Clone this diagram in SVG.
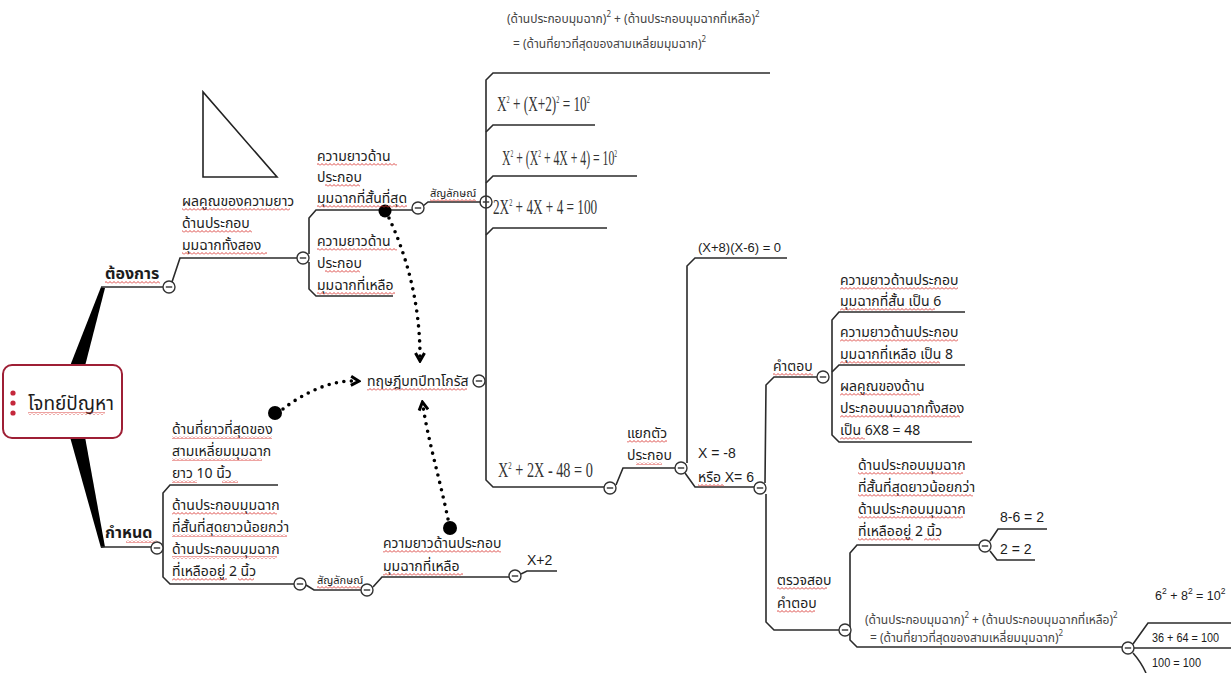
<svg xmlns="http://www.w3.org/2000/svg" width="1231" height="673" viewBox="0 0 1231 673">
  <style>
    .t { font-family: 'Noto Sans Thai', 'Noto Sans', 'DejaVu Sans', sans-serif; font-size: 14px; fill: #1c1c1c; }
    .b { font-weight: bold; font-size: 16px; }
    .s { font-size: 11px; }
    .f { font-size: 12px; fill: #444; }
    .lat { font-family: 'Liberation Sans', Arial, sans-serif; font-size: 14px; fill: #1c1c1c; }
    .eq { font-family: 'Liberation Serif', 'Times New Roman', serif; font-size: 21px; fill: #333; }
    .ln { fill: none; stroke: #2b2b2b; stroke-width: 1.6; }
    .cc { fill: #fff; stroke: #333; stroke-width: 1.4; }
    .dot { fill: none; stroke: #000; stroke-width: 3.6; stroke-linecap: round; stroke-dasharray: 0 7.5; }
    .w0 { fill: url(#wv0); }
    .w1 { fill: url(#wv1); }
    .w2 { fill: url(#wv2); }
  </style>
  <defs>
    <g id="cm">
      <circle class="cc" r="6"/>
      <line x1="-3.2" y1="0" x2="3.2" y2="0" stroke="#333" stroke-width="1.4"/>
    </g>
    <marker id="chev" viewBox="0 0 12 12" refX="6" refY="6" markerWidth="12" markerHeight="12" markerUnits="userSpaceOnUse" orient="auto">
      <path d="M2,1.5 L10,6 L2,10.5" fill="none" stroke="#000" stroke-width="3"/>
    </marker>
    <!-- spell-check squiggle, three vertical phases -->
    <pattern id="wv0" x="0" y="0" width="4" height="3" patternUnits="userSpaceOnUse">
      <path d="M0,2.5 L2,0.5 L4,2.5" fill="none" stroke="#d8322f" stroke-width="0.9"/>
    </pattern>
    <pattern id="wv1" x="0" y="1" width="4" height="3" patternUnits="userSpaceOnUse">
      <path d="M0,2.5 L2,0.5 L4,2.5" fill="none" stroke="#d8322f" stroke-width="0.9"/>
    </pattern>
    <pattern id="wv2" x="0" y="2" width="4" height="3" patternUnits="userSpaceOnUse">
      <path d="M0,2.5 L2,0.5 L4,2.5" fill="none" stroke="#d8322f" stroke-width="0.9"/>
    </pattern>
  </defs>
  <rect width="1231" height="673" fill="#fff"/>

  <!-- connectors: branch lines, brackets and dotted links -->
  <g id="connectors">
    <polygon points="70,366 85,366 105,288 101,287" fill="#000"/>
    <polygon points="70,437 85,437 105,547 101,548" fill="#000"/>
    <path class="ln" d="M101,287 L163,287"/>
    <path class="ln" d="M172,282 L180,258 L297,258"/>
    <path class="ln" d="M309,254 L309,218 L316,210 L412,210"/>
    <path class="ln" d="M309,262 L309,289 L316,296 L393,296"/>
    <path class="ln" d="M423,206 L428,202 L481,202"/>
    <!-- trunk of the formula column -->
    <path class="ln" d="M770,73 L493,73 L486,80 L486,480 L493,487 L604,487"/>
    <path class="ln" d="M486,132 L493,125 L595,125"/>
    <path class="ln" d="M486,183 L493,176 L637,176"/>
    <path class="ln" d="M486,235 L493,228 L607,228"/>
    <!-- lower left -->
    <path class="ln" d="M101,547 L151,547"/>
    <path class="ln" d="M278,485 L170,485 L163,493 L163,577 L170,584 L294,584"/>
    <path class="ln" d="M306,585 L314,590 L361,590"/>
    <path class="ln" d="M373,587 L382,577 L509,577"/>
    <path class="ln" d="M521,574 L527,571 L557,571"/>
    <!-- factoring branch -->
    <path class="ln" d="M616,485 L623,468 L675,468"/>
    <path class="ln" d="M787,258 L695,258 L687,266 L687,463"/>
    <path class="ln" d="M685,473 L695,487 L754,487"/>
    <path class="ln" d="M765,483 L766,385 L774,377 L817,377"/>
    <path class="ln" d="M766,494 L766,622 L774,630 L839,630"/>
    <!-- answers -->
    <path class="ln" d="M965,312 L839,312 L832,320 L832,435 L839,442 L972,442"/>
    <path class="ln" d="M832,372 L839,365 L965,365"/>
    <!-- check -->
    <path class="ln" d="M979,545 L857,545 L850,553 L850,640 L857,647 L1122,647"/>
    <path class="ln" d="M990,541 L998,529 L1047,529"/>
    <path class="ln" d="M990,551 L997,560 L1035,560"/>
    <path class="ln" d="M1133,644 L1148,623 L1231,623"/>
    <path class="ln" d="M1134,648 L1231,648"/>
    <path class="ln" d="M1133,653 Q1141,662 1146,673"/>
    <!-- dotted relations -->
    <path class="dot" d="M389,218 C405,252 420,300 420,357" marker-end="url(#chev)"/>
    <path class="dot" d="M283,409 C302,394 330,380 355,381" marker-end="url(#chev)"/>
    <path class="dot" d="M448,519 C440,480 428,440 423,406" marker-end="url(#chev)"/>
    <circle cx="385" cy="211" r="6.5" fill="#000"/>
    <circle cx="275" cy="413" r="7" fill="#000"/>
    <circle cx="450" cy="528" r="7" fill="#000"/>
  </g>

  <!-- central topic -->
  <g id="root">
    <rect x="3" y="365" width="119" height="73" rx="9" fill="#fff" stroke="#9e1f35" stroke-width="2"/>
    <circle cx="13" cy="393" r="2.6" fill="#c4283c"/>
    <circle cx="13" cy="403" r="2.6" fill="#c4283c"/>
    <circle cx="13" cy="413" r="2.6" fill="#c4283c"/>
    <text class="t" x="28" y="410" style="font-size:19px">โจทย์ปัญหา</text>
    <rect class="w0" x="28" y="412" width="77" height="3"/>
  </g>

  <g id="want">
    <text class="t b" x="105" y="279">ต้องการ</text>
    <rect class="w2" x="105" y="281" width="55" height="3"/>
    <use href="#cm" x="169" y="287"/>
  </g>
  <g id="product">
    <text class="t" x="182" y="206">ผลคูณของความยาว</text>
    <text class="t" x="182" y="228">ด้านประกอบ</text>
    <text class="t" x="182" y="250">มุมฉากทั้งสอง</text>
    <rect class="w1" x="182" y="208" width="108" height="3"/>
    <rect class="w2" x="182" y="230" width="70" height="3"/>
    <rect class="w0" x="182" y="252" width="85" height="3"/>
    <use href="#cm" x="303" y="258"/>
  </g>
  <g id="triangle">
    <polygon points="203,92 203,177 277,177" fill="none" stroke="#222" stroke-width="1.6"/>
  </g>
  <g id="short-leg">
    <text class="t" x="317" y="161">ความยาวด้าน</text>
    <text class="t" x="317" y="182">ประกอบ</text>
    <text class="t" x="317" y="203">มุมฉากที่สั้นที่สุด</text>
    <rect class="w1" x="317" y="163" width="80" height="3"/>
    <rect class="w1" x="325" y="184" width="35" height="3"/>
    <rect class="w1" x="317" y="205" width="90" height="3"/>
    <use href="#cm" x="418" y="208"/>
  </g>
  <g id="other-leg">
    <text class="t" x="317" y="246">ความยาวด้าน</text>
    <text class="t" x="317" y="268">ประกอบ</text>
    <text class="t" x="317" y="290">มุมฉากที่เหลือ</text>
    <rect class="w2" x="317" y="248" width="80" height="3"/>
    <rect class="w0" x="325" y="270" width="35" height="3"/>
    <rect class="w1" x="317" y="292" width="78" height="3"/>
  </g>
  <g id="symbol-top">
    <text class="t s" x="430" y="197">สัญลักษณ์</text>
    <rect class="w1" x="430" y="199" width="46" height="3"/>
    <circle cx="486" cy="202" r="6" fill="none" stroke="#333" stroke-width="1.4"/>
    <line x1="482.8" y1="202" x2="489.2" y2="202" stroke="#333" stroke-width="1.4"/>
  </g>
  <g id="theorem">
    <text class="t" x="367" y="386">ทฤษฎีบทปีทาโกรัส</text>
    <rect class="w1" x="367" y="388" width="100" height="3"/>
    <use href="#cm" x="479" y="381"/>
  </g>

  <g id="formula-words">
    <text class="t f" x="507" y="23">(ด้านประกอบมุมฉาก)<tspan dy="-6" font-size="8">2</tspan><tspan dy="6"> + (ด้านประกอบมุมฉากที่เหลือ)</tspan><tspan dy="-6" font-size="8">2</tspan></text>
    <text class="t f" x="513" y="48">= (ด้านที่ยาวที่สุดของสามเหลี่ยมมุมฉาก)<tspan dy="-6" font-size="8">2</tspan></text>
  </g>
  <g id="eq1">
    <text class="eq" transform="translate(497,111) scale(0.63,1)">X<tspan dy="-8" font-size="10">2</tspan><tspan dy="8"> + (X+2)</tspan><tspan dy="-8" font-size="10">2</tspan><tspan dy="8"> = 10</tspan><tspan dy="-8" font-size="10">2</tspan></text>
  </g>
  <g id="eq2">
    <text class="eq" transform="translate(502,165) scale(0.56,1)">X<tspan dy="-8" font-size="10">2</tspan><tspan dy="8"> + (X</tspan><tspan dy="-8" font-size="10">2</tspan><tspan dy="8"> + 4X + 4) = 10</tspan><tspan dy="-8" font-size="10">2</tspan></text>
  </g>
  <g id="eq3">
    <text class="eq" transform="translate(493,214) scale(0.63,1)">2X<tspan dy="-8" font-size="10">2</tspan><tspan dy="8"> + 4X + 4 = 100</tspan></text>
  </g>
  <g id="eq4">
    <text class="eq" transform="translate(498,477) scale(0.68,1)" fill="#666">X<tspan dy="-8" font-size="10">2</tspan><tspan dy="8"> + 2X - 48 = 0</tspan></text>
    <use href="#cm" x="610" y="488"/>
  </g>

  <g id="given">
    <text class="t b" x="105" y="538">กำหนด</text>
    <rect class="w1" x="126" y="540" width="32" height="3"/>
    <use href="#cm" x="157" y="548"/>
  </g>
  <g id="hypotenuse">
    <text class="t" x="172" y="434">ด้านที่ยาวที่สุดของ</text>
    <text class="t" x="172" y="456">สามเหลี่ยมมุมฉาก</text>
    <text class="t" x="172" y="478">ยาว 10 นิ้ว</text>
    <rect class="w2" x="172" y="436" width="100" height="3"/>
    <rect class="w0" x="172" y="458" width="90" height="3"/>
    <rect class="w1" x="172" y="480" width="25" height="3"/>
    <rect class="w1" x="222" y="480" width="16" height="3"/>
  </g>
  <g id="difference">
    <text class="t" x="172" y="510">ด้านประกอบมุมฉาก</text>
    <text class="t" x="172" y="532">ที่สั้นที่สุดยาวน้อยกว่า</text>
    <text class="t" x="172" y="554">ด้านประกอบมุมฉาก</text>
    <text class="t" x="172" y="576">ที่เหลืออยู่ 2 นิ้ว</text>
    <rect class="w2" x="172" y="512" width="105" height="3"/>
    <rect class="w1" x="172" y="534" width="115" height="3"/>
    <rect class="w0" x="172" y="556" width="105" height="3"/>
    <rect class="w2" x="172" y="578" width="55" height="3"/>
    <rect class="w2" x="238" y="578" width="16" height="3"/>
    <use href="#cm" x="300" y="584"/>
  </g>
  <g id="symbol-bottom">
    <text class="t s" x="317" y="584">สัญลักษณ์</text>
    <rect class="w1" x="317" y="586" width="46" height="3"/>
    <use href="#cm" x="367" y="590"/>
  </g>
  <g id="remaining-leg">
    <text class="t" x="383" y="548">ความยาวด้านประกอบ</text>
    <text class="t" x="383" y="571">มุมฉากที่เหลือ</text>
    <rect class="w1" x="383" y="550" width="118" height="3"/>
    <rect class="w0" x="383" y="573" width="80" height="3"/>
    <use href="#cm" x="515" y="576"/>
  </g>
  <g id="x-plus-2">
    <text class="lat" x="527" y="565">X+2</text>
  </g>

  <g id="factor">
    <text class="t" x="627" y="438">แยกตัว</text>
    <text class="t" x="627" y="460">ประกอบ</text>
    <rect class="w2" x="627" y="440" width="40" height="3"/>
    <rect class="w1" x="636" y="462" width="26" height="3"/>
    <use href="#cm" x="681" y="468"/>
  </g>
  <g id="factored">
    <text class="lat" x="698" y="252" style="font-size:13px">(X+8)(X-6) = 0</text>
  </g>
  <g id="roots">
    <text class="lat" x="698" y="458">X = -8</text>
    <text class="t" x="698" y="482">หรือ <tspan class="lat">X= 6</tspan></text>
    <rect class="w1" x="698" y="484" width="26" height="3"/>
    <use href="#cm" x="760" y="488"/>
  </g>
  <g id="answer">
    <text class="t" x="773" y="371">คำตอบ</text>
    <rect class="w1" x="773" y="373" width="40" height="3"/>
    <use href="#cm" x="823" y="377"/>
  </g>
  <g id="ans-short">
    <text class="t" x="840" y="285">ความยาวด้านประกอบ</text>
    <text class="t" x="840" y="306">มุมฉากที่สั้น เป็น 6</text>
    <rect class="w2" x="840" y="287" width="118" height="3"/>
    <rect class="w2" x="840" y="308" width="95" height="3"/>
  </g>
  <g id="ans-other">
    <text class="t" x="840" y="337">ความยาวด้านประกอบ</text>
    <text class="t" x="840" y="359">มุมฉากที่เหลือ เป็น  8</text>
    <rect class="w0" x="840" y="339" width="118" height="3"/>
    <rect class="w1" x="840" y="361" width="100" height="3"/>
  </g>
  <g id="ans-product">
    <text class="t" x="840" y="391">ผลคูณของด้าน</text>
    <text class="t" x="840" y="413">ประกอบมุมฉากทั้งสอง</text>
    <text class="t" x="840" y="435">เป็น 6X8 = 48</text>
    <rect class="w0" x="840" y="393" width="80" height="3"/>
    <rect class="w1" x="840" y="415" width="120" height="3"/>
    <rect class="w2" x="840" y="437" width="25" height="3"/>
  </g>
  <g id="check">
    <text class="t" x="777" y="585">ตรวจสอบ</text>
    <text class="t" x="777" y="608">คำตอบ</text>
    <rect class="w2" x="777" y="587" width="50" height="3"/>
    <rect class="w1" x="777" y="610" width="38" height="3"/>
    <use href="#cm" x="845" y="630"/>
  </g>
  <g id="check-diff">
    <text class="t" x="858" y="470">ด้านประกอบมุมฉาก</text>
    <text class="t" x="858" y="492">ที่สั้นที่สุดยาวน้อยกว่า</text>
    <text class="t" x="858" y="514">ด้านประกอบมุมฉาก</text>
    <text class="t" x="858" y="536">ที่เหลืออยู่ 2 นิ้ว</text>
    <rect class="w1" x="858" y="472" width="105" height="3"/>
    <rect class="w2" x="858" y="494" width="115" height="3"/>
    <rect class="w0" x="858" y="516" width="105" height="3"/>
    <rect class="w1" x="858" y="538" width="55" height="3"/>
    <rect class="w1" x="924" y="538" width="16" height="3"/>
    <use href="#cm" x="985" y="546"/>
  </g>
  <g id="check-diff-values">
    <text class="lat" x="1000" y="522">8-6 = 2</text>
    <text class="lat" x="1000" y="554">2 = 2</text>
  </g>
  <g id="check-formula">
    <text class="t f" x="865" y="624">(ด้านประกอบมุมฉาก)<tspan dy="-6" font-size="8">2</tspan><tspan dy="6"> + (ด้านประกอบมุมฉากที่เหลือ)</tspan><tspan dy="-6" font-size="8">2</tspan></text>
    <text class="t f" x="870" y="642">= (ด้านที่ยาวที่สุดของสามเหลี่ยมมุมฉาก)<tspan dy="-6" font-size="8">2</tspan></text>
    <use href="#cm" x="1128" y="648"/>
  </g>
  <g id="check-values">
    <text class="lat" x="1155" y="600" style="font-size:12.5px">6<tspan dy="-6" font-size="8.5">2</tspan><tspan dy="6"> + 8</tspan><tspan dy="-6" font-size="8.5">2</tspan><tspan dy="6"> = 10</tspan><tspan dy="-6" font-size="8.5">2</tspan></text>
    <text class="lat" x="1152" y="642" style="font-size:12px" textLength="67" lengthAdjust="spacingAndGlyphs">36 + 64 = 100</text>
    <text class="lat" x="1152" y="667" style="font-size:12px" textLength="49" lengthAdjust="spacingAndGlyphs">100 = 100</text>
  </g>
</svg>
